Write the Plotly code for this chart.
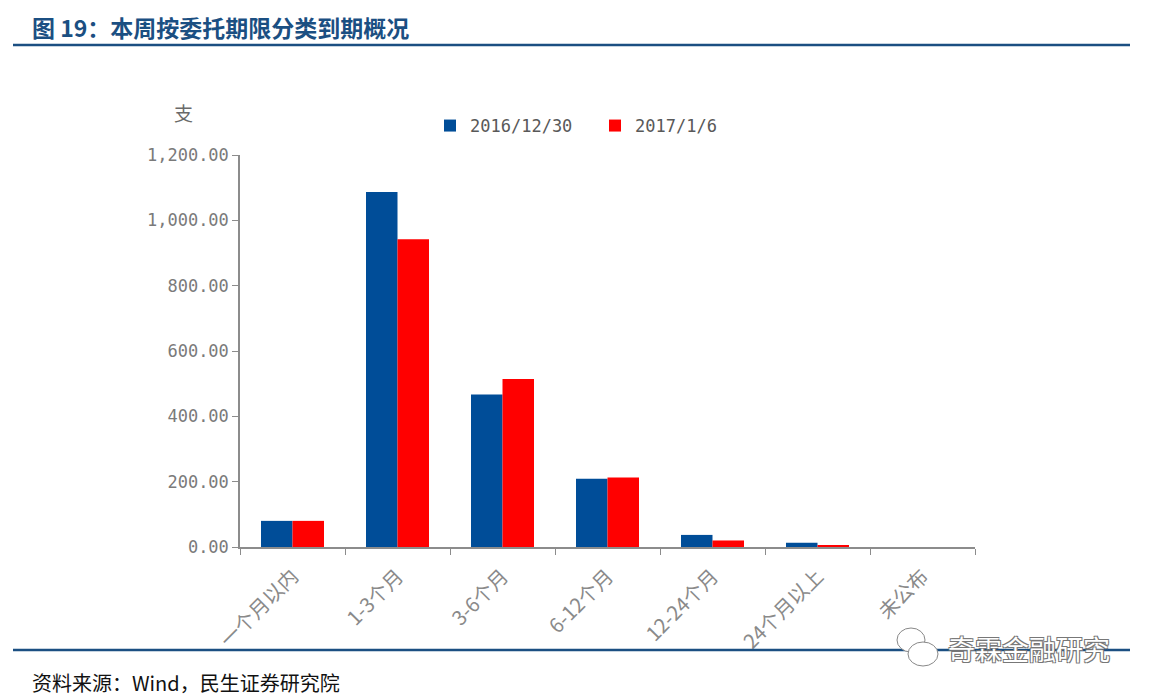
import plotly.graph_objects as go

categories = ["一个月以内", "1-3个月", "3-6个月", "6-12个月", "12-24个月", "24个月以上", "未公布"]
series_names = ["2016/12/30", "2017/1/6"]
values_2016_12_30 = [80, 1087, 467, 209, 37, 13, 0]
values_2017_1_6 = [80, 942, 514, 213, 20, 6, 0]
y_ticks = [0, 200, 400, 600, 800, 1000, 1200]

W, H = 1150, 699
L, R, T, B = 240, 175, 155, 152
PW, PH = W - L - R, H - T - B


def px(x):
    return (x - L) / PW


def py(y):
    return (H - B - y) / PH


NUM_FONT = "DejaVu Sans Mono"
CJK_FONT = "Noto Sans CJK SC"
TITLE_BLUE = "#1B4F82"

fig = go.Figure()
fig.add_trace(go.Bar(x=categories, y=values_2016_12_30, name=series_names[0],
                     marker=dict(color="#004D98", line=dict(width=0))))
fig.add_trace(go.Bar(x=categories, y=values_2017_1_6, name=series_names[1],
                     marker=dict(color="#FF0000", line=dict(width=0))))

fig.update_layout(
    width=W, height=H,
    margin=dict(l=L, r=R, t=T, b=B),
    paper_bgcolor="white", plot_bgcolor="white",
    barmode="group", bargap=0.4, bargroupgap=0,
    showlegend=True,
    legend=dict(orientation="h", x=px(430), y=py(108), xanchor="left", yanchor="top",
                font=dict(family=NUM_FONT, size=17, color="#595959"),
                entrywidth=120, itemwidth=30, bgcolor="rgba(0,0,0,0)"),
    xaxis=dict(type="category", showline=True, linecolor="#8c8c8c", linewidth=1.5,
               ticks="outside", tickson="boundaries", ticklen=6, tickcolor="#8c8c8c",
               tickangle=-45, showgrid=False, ticklabelstandoff=8,
               tickfont=dict(family=CJK_FONT, size=20, color="#8a8a8a")),
    yaxis=dict(range=[0, 1200], tickvals=y_ticks, tickformat=",.2f",
               showline=True, linecolor="#8c8c8c", linewidth=1.5,
               ticks="outside", ticklen=6, tickcolor="#8c8c8c", showgrid=False,
               zeroline=False,
               tickfont=dict(family=NUM_FONT, size=17, color="#7a7a7a")),
)

annotations = [
    dict(text="<b>图 19：本周按委托期限分类到期概况</b>", x=px(30), y=py(27),
         xanchor="left", yanchor="middle",
         font=dict(family=CJK_FONT, size=23, color=TITLE_BLUE)),
    dict(text="支", x=px(183), y=py(113), xanchor="center", yanchor="middle",
         font=dict(family=CJK_FONT, size=19, color="#6a6a6a")),
    dict(text="资料来源：Wind，民生证券研究院", x=px(30), y=py(682),
         xanchor="left", yanchor="middle",
         font=dict(family=CJK_FONT, size=20, color="#111111")),
    dict(text="奇霖金融研究", x=px(1112), y=py(648), xanchor="right", yanchor="middle",
         font=dict(family=CJK_FONT, size=27, color="white",
                   shadow="1px 1px 0 #777, -1px -1px 0 #777, 1px -1px 0 #777, -1px 1px 0 #777")),
]
for a in annotations:
    a.update(xref="paper", yref="paper", showarrow=False)
fig.update_layout(annotations=annotations)

shapes = [
    dict(type="line", x0=px(13), x1=px(1130), y0=py(45), y1=py(45),
         line=dict(color=TITLE_BLUE, width=2.5)),
    dict(type="line", x0=px(13), x1=px(1130), y0=py(650), y1=py(650),
         line=dict(color=TITLE_BLUE, width=2.5)),
    dict(type="circle", x0=px(897), x1=px(925), y0=py(628), y1=py(652),
         line=dict(color="#888888", width=1), fillcolor="white"),
    dict(type="circle", x0=px(908), x1=px(938), y0=py(642), y1=py(666),
         line=dict(color="#888888", width=1), fillcolor="white"),
]
for s in shapes:
    s.update(xref="paper", yref="paper", layer="above")
fig.update_layout(shapes=shapes)

fig.write_html("out.html", config={"displayModeBar": False},
               post_script="document.body.style.margin='0';")
